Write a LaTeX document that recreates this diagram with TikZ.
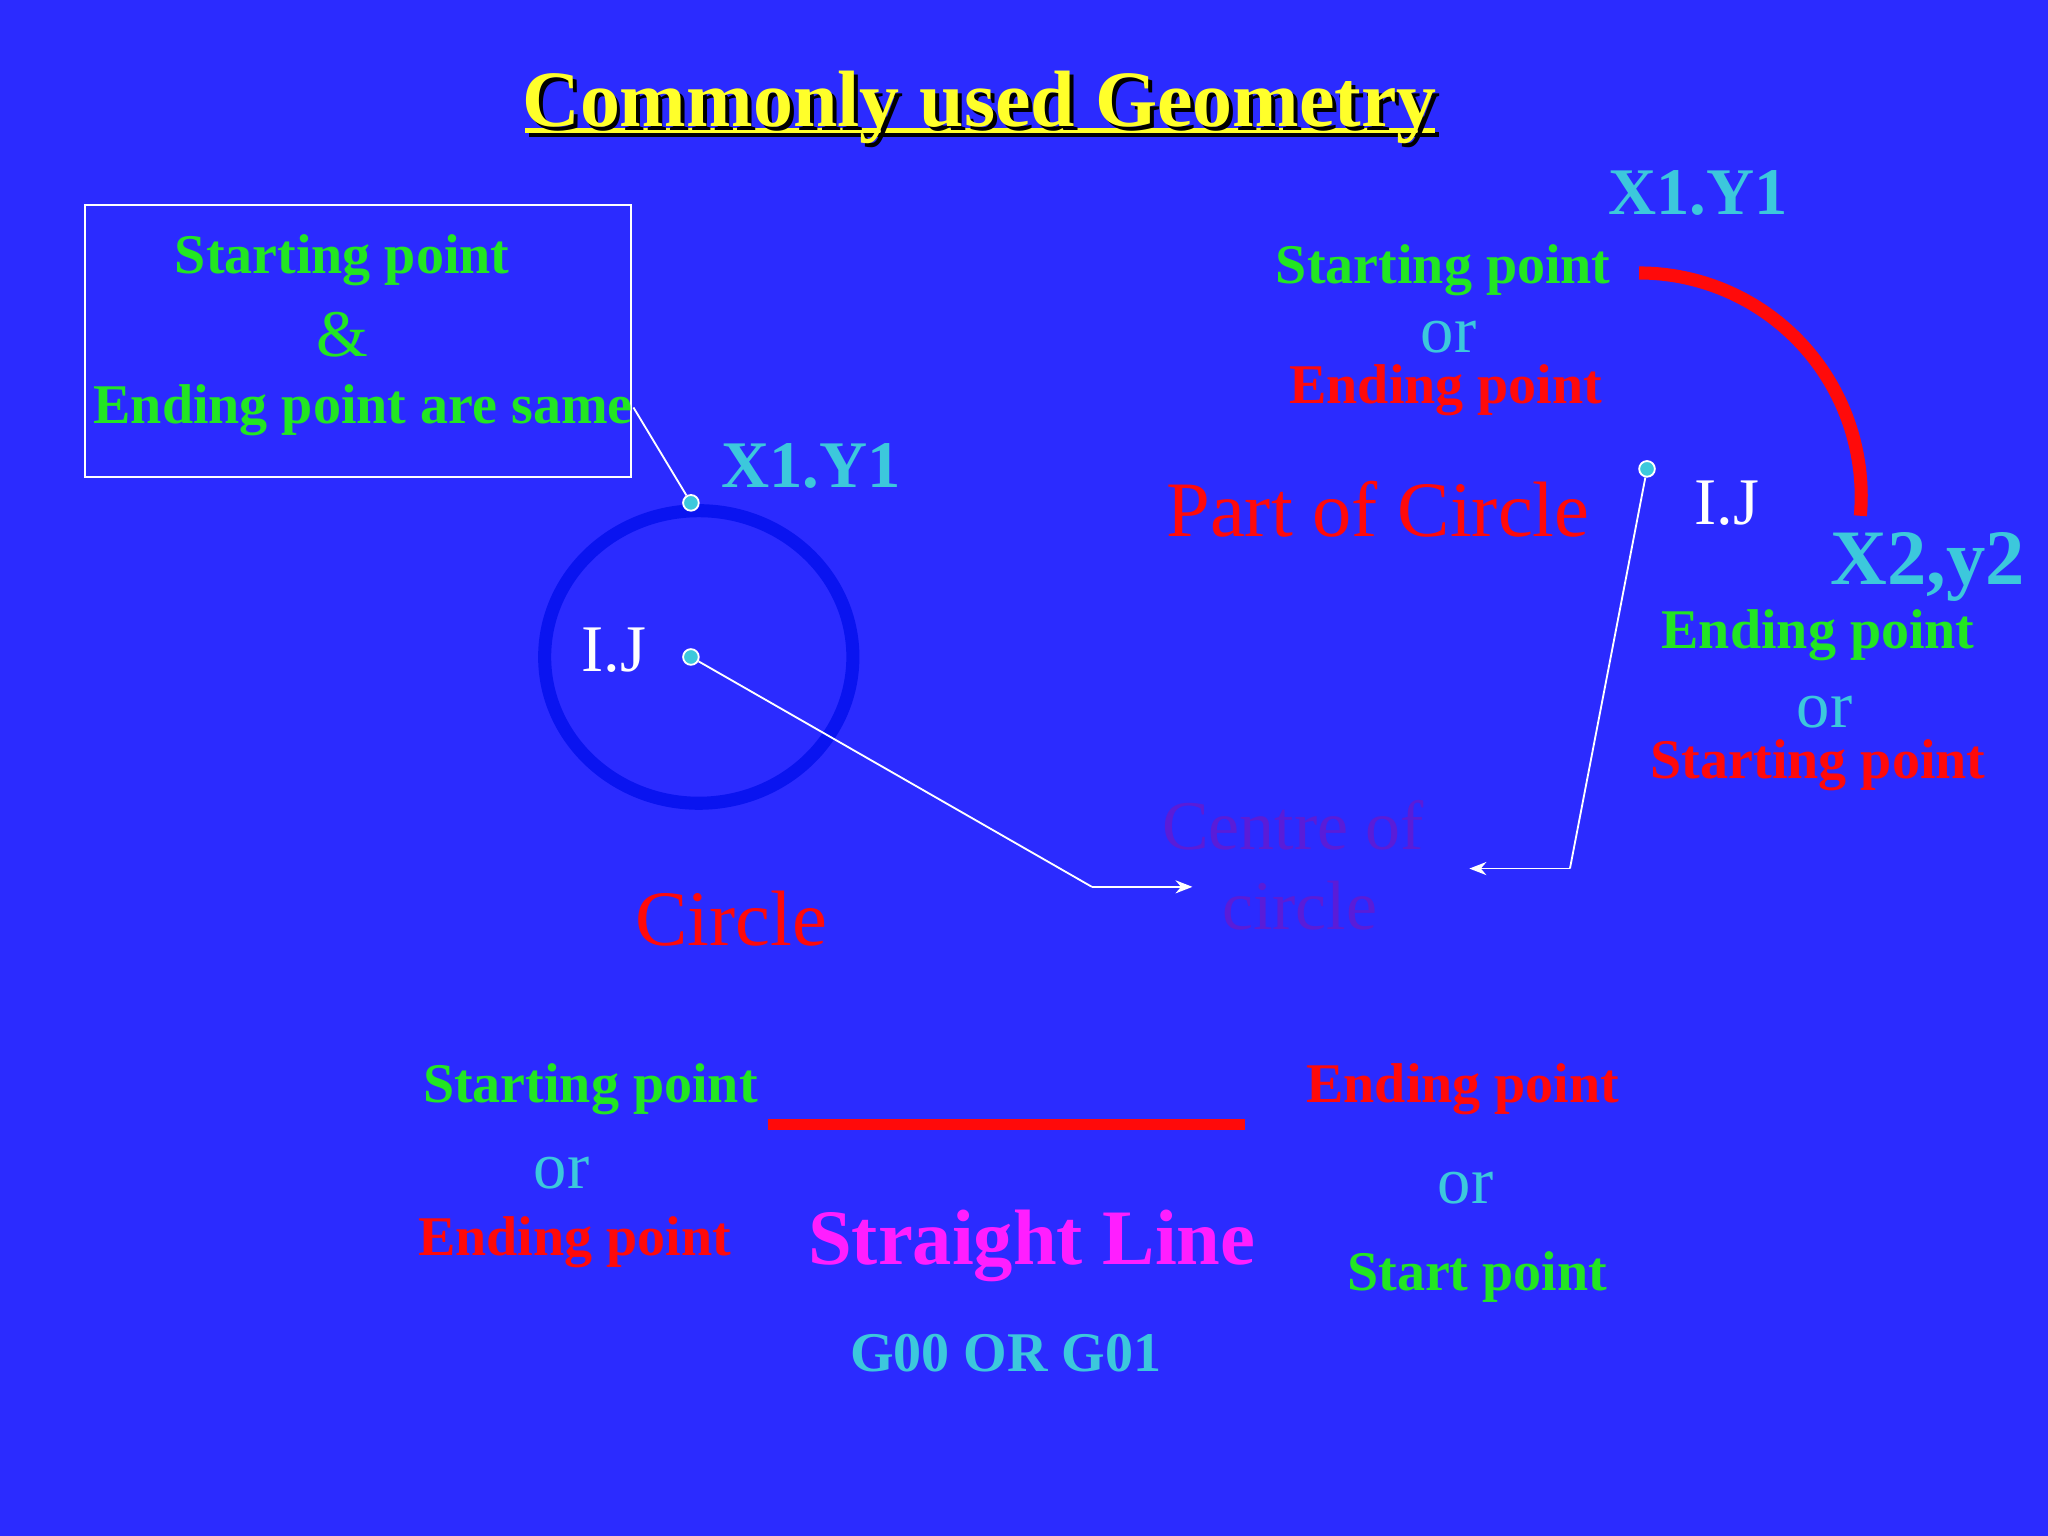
\documentclass[tikz,border=0pt]{standalone}
\usepackage{fontspec}
\setmainfont{Liberation Serif}
\usetikzlibrary{arrows.meta}
\definecolor{bg}{HTML}{2B2BFF}
\definecolor{grn}{HTML}{22E622}
\definecolor{teal}{HTML}{3CC8DC}
\definecolor{rd}{HTML}{FF0A0A}
\definecolor{pur}{HTML}{5A1CD8}
\definecolor{ttl}{HTML}{FFFF2A}
\definecolor{mag}{HTML}{FF1EFF}
\definecolor{cblue}{HTML}{0A14F0}
\tikzset{
 s/.style={font=\fontsize{12.2pt}{13pt}\selectfont\bfseries,inner sep=0pt,yshift=-0.04cm},
 m/.style={font=\fontsize{14.5pt}{15pt}\selectfont,inner sep=0pt,yshift=-0.03cm},
 b/.style={font=\fontsize{14.5pt}{15pt}\selectfont\bfseries,inner sep=0pt},
 l/.style={font=\fontsize{17.1pt}{18pt}\selectfont,inner sep=0pt},
 lb/.style={font=\fontsize{17.1pt}{18pt}\selectfont\bfseries,inner sep=0pt,yshift=-0.04cm},
 dot/.style={circle,fill=teal,draw=white,line width=0.4pt,minimum size=0.12cm,inner sep=0pt},
 conn/.style={draw=white,line width=0.4pt},
 arr/.style={conn,-{Stealth[length=0.13cm,width=0.1cm]}}
}
\begin{document}
\begin{tikzpicture}[x=0.01cm,y=-0.01cm]
\fill[bg] (0,0) rectangle (1568,1176);
\draw[black,line width=1.2pt] (405,103) -- (1102,103);
\draw[ttl,line width=1.2pt] (402,100) -- (1099,100);
\node[font=\fontsize{17.4pt}{18pt}\selectfont\bfseries,text=black] at (753,85) {Commonly used Geometry};
\node[font=\fontsize{17.4pt}{18pt}\selectfont\bfseries,text=ttl] (title) at (750,82) {Commonly used Geometry};
% left circle part
\node[draw=white,line width=0.5pt,minimum width=4.18cm,minimum height=2.08cm,inner sep=0pt] (box) at (274,261) {};
\node[s,text=grn] at (262,195) {Starting point};
\node[m,text=grn] at (262,253) {\&};
\node[s,text=grn] at (278,310) {Ending point are same};
\draw[cblue,line width=0.1cm] (535,503) ellipse [x radius=118,y radius=112];
\node[dot] (p1) at (529,385) {};
\coordinate (bc) at (485,312);
\draw[conn] (bc) -- (p1);
\node[dot] (c1) at (529,503) {};
\node[m,text=white] at (470,495) {I.J};
\node[b,text=teal] at (621,357) {X1.Y1};
\node[l,text=rd] at (560,703) {Circle};
\coordinate (k1) at (836,679);
\coordinate (e1) at (913,679);
\draw[conn] (c1) -- (k1);
\draw[arr] (k1) -- (e1);
\node[font=\fontsize{15.2pt}{16pt}\selectfont,inner sep=0pt,text=pur] (cc1) at (990,632) {Centre of};
\node[font=\fontsize{15.2pt}{16pt}\selectfont,inner sep=0pt,text=pur] (cc2) at (995,693) {circle};
% arc part
\draw[rd,line width=0.1cm] (1255,209) arc[start angle=-90,end angle=5,x radius=170,y radius=171];
\node[dot] (c2) at (1261,359) {};
\node[m,text=white] at (1322,382) {I.J};
\coordinate (k2) at (1202,665);
\coordinate (e2) at (1125,665);
\draw[conn] (c2) -- (k2);
\draw[arr] (k2) -- (e2);
\node[b,text=teal] at (1300,148) {X1.Y1};
\node[s,text=grn] at (1105,203) {Starting point};
\node[m,text=teal] at (1109,255) {or};
\node[s,text=rd] at (1107,295) {Ending point};
\node[l,text=rd] at (1055,390) {Part of Circle};
\node[lb,text=teal] at (1476,430) {X2,y2};
\node[s,text=grn] at (1392,482) {Ending point};
\node[m,text=teal] at (1397,542) {or};
\node[s,text=rd] at (1392,582) {Starting point};
% straight line
\node[s,text=grn] at (452,830) {Starting point};
\node[m,text=teal] at (430,895) {or};
\node[s,text=rd] at (440,947) {Ending point};
\draw[rd,line width=0.08cm] (588,861) -- (953,861);
\node[s,text=rd] at (1120,830) {Ending point};
\node[m,text=teal] at (1122,907) {or};
\node[s,text=grn] at (1131,974) {Start point};
\node[lb,text=mag] at (790,950) {Straight Line};
\node[s,text=teal] at (770,1032) {G00 OR G01};
\end{tikzpicture}
\end{document}
